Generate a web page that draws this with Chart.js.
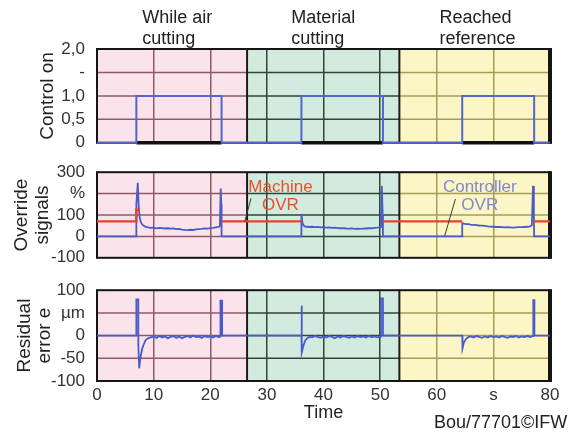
<!DOCTYPE html>
<html><head><meta charset="utf-8">
<script src="https://cdn.jsdelivr.net/npm/chart.js@4.4.1/dist/chart.umd.min.js"></script>
<style>
html,body{margin:0;padding:0;background:#fff;width:571px;height:434px;overflow:hidden;position:relative;}
canvas{position:absolute;left:0;}
#c1{top:0}#c2{top:150px}#c3{top:268px}
#credit{position:absolute;left:434px;top:412px;font:18px "Liberation Sans",Arial,sans-serif;color:#222;white-space:nowrap;}
</style></head><body>
<canvas id="c1" width="571" height="165"></canvas>
<canvas id="c2" width="571" height="130"></canvas>
<canvas id="c3" width="571" height="166"></canvas>
<div id="credit">Bou/77701©IFW</div>
<script>
// ---------------- data ----------------
const xTickValues = [0,10,20,30,40,50,60,70,80];
const xTickLabels = ['0','10','20','30','40','50','60','s','80'];

const regionEdges = [0, 26.5, 53.4, 80];
const regionNames = [['While air','cutting'],['Material','cutting'],['Reached','reference']];
const regionLabelX = [8.0, 34.3, 60.5];

const ctrlTickValues = [0,0.5,1,1.5,2];
const ctrlTickLabels = ['0','0,5','1,0','-','2,0'];
const ovrTickValues = [-100,0,100,200,300];
const ovrTickLabels = ['-100','0','100','%','300'];
const errTickValues = [-100,-50,0,50,100];
const errTickLabels = ['-100','-50','0','µm','100'];

// Control on signal (time s, value)
const controlOn = [[0,0],[6.95,0],[6.95,1],[22.0,1],[22.0,0],[36.1,0],[36.1,1],[50.5,1],[50.5,0],[64.5,0],[64.5,1],[77.2,1],[77.2,0],[80,0]];
const controlOff = [[6.95,0],[22.0,0],[22.0,null],[36.1,0],[50.5,0],[50.5,null],[64.5,0],[77.2,0]];

// Machine OVR (%)
const machineOVR = [[0,70],[6.95,70],[6.95,125],[7.6,122],[7.6,null],[22.0,70],[36.1,70],[36.1,null],[50.5,70],[64.5,70],[64.5,null],[77.2,70],[80,70]];

// Controller OVR (%)
const controllerOVR = [[0,0],[6.95,0],[6.95,150],[7.2,250],[7.35,150],[7.5,95],[7.7,70],[8.0,55],[8.5,46],[9,42],[9.5,40],[10,41],[10.5,38],[11,40],[11.5,39],[12,37],[12.5,38],[13,36],[13.5,37],[14,34],[14.5,35],[15,32],[15.5,30],[16,29],[16.5,31],[17,30],[17.5,33],[18,34],[18.5,35],[19,37],[19.5,36],[20,39],[20.5,40],[21,42],[21.5,44],[21.7,50],[21.85,224],[21.95,150],[22.0,0],
 [36.1,0],[36.1,105],[36.3,60],[36.6,48],[37,45],[37.5,44],[38,45],[38.5,43],[39,44],[39.5,42],[40,43],[40.5,41],[41,42],[41.5,40],[42,41],[42.5,39],[43,38],[43.5,39],[44,37],[44.5,36],[45,37],[45.5,35],[46,36],[46.5,35],[47,36],[47.5,37],[48,38],[48.5,38],[49,40],[49.5,41],[50,43],[50.15,60],[50.3,236],[50.45,100],[50.5,0],
 [64.5,0],[64.5,62],[64.8,60],[65.2,58],[65.6,57],[66,55],[66.5,54],[67,53],[67.5,51],[68,50],[68.5,49],[69,47],[69.5,46],[70,45],[70.5,44],[71,44],[71.5,43],[72,42],[72.5,43],[73,42],[73.5,41],[74,42],[74.5,43],[75,43],[75.5,44],[76,45],[76.5,47],[76.8,52],[77.0,236],[77.15,120],[77.2,0],[80,0]];

// Residual error e (µm)
const residualError = [[0,0],[6.95,0],[6.95,80],[7.3,80],[7.3,-20],[7.45,-72],[7.6,-55],[7.8,-40],[8.0,-28],[8.3,-18],[8.6,-10],[9.0,-6],[9.5,-4],[10,-2],[10.5,-5],[11,-1],[11.5,-4],[12,-2],[12.5,-6],[13,-3],[13.5,-1],[14,-5],[14.5,-2],[15,-6],[15.5,-3],[16,-1],[16.5,-4],[17,0],[17.5,-3],[18,-2],[18.5,-5],[19,-1],[19.5,-3],[20,-2],[20.5,-4],[21,-1],[21.5,-3],[21.75,-2],[21.8,77],[22.1,77],[22.1,0],
 [36.1,0],[36.12,66],[36.2,-37],[36.5,-20],[36.8,-10],[37.2,-5],[37.6,-3],[38,-4],[38.5,-1],[39,-3],[39.5,-5],[40,-2],[40.5,-4],[41,-1],[41.5,-3],[42,-6],[42.5,-2],[43,-4],[43.5,-1],[44,-3],[44.5,-5],[45,-2],[45.5,-4],[46,-1],[46.5,-3],[47,-2],[47.5,-4],[48,-1],[48.5,-3],[49,-2],[49.5,-4],[50.1,-2],[50.15,82],[50.5,82],[50.5,0],
 [64.5,0],[64.55,-28],[64.8,-15],[65.2,-7],[65.6,-3],[66,-2],[66.5,-4],[67,-1],[67.5,-3],[68,-5],[68.5,-2],[69,-4],[69.5,-1],[70,-3],[70.5,-2],[71,-4],[71.5,-1],[72,-3],[72.5,-5],[73,-2],[73.5,-3],[74,-1],[74.5,-4],[75,-2],[75.5,-3],[76,-1],[76.5,-3],[77.0,-1],[77.05,78],[77.25,78],[77.25,0],[80,0]];

// ---------------- styles ----------------
const FONT = '"Liberation Sans", Arial, Helvetica, sans-serif';
const regionFill = ['#fbe3eb','#d3ebdf','#fcf6c6'];
const regionGrid = ['#8d5a68','#2f4536','#a59c58'];
const blue = '#4a5bc6';
const red = '#e8432a';

const pts = arr => arr.map(p => ({x:p[0], y:p[1]}));
function regionIndex(v){ for(let i=0;i<3;i++){ if(v>=regionEdges[i] && v<regionEdges[i+1]) return i; } return 2; }

const regionPlugin = {
  id:'regions',
  beforeDraw(chart){
    const {ctx, chartArea:a, scales:{x}} = chart;
    ctx.save();
    for(let i=0;i<3;i++){
      const x0=x.getPixelForValue(regionEdges[i]), x1=x.getPixelForValue(regionEdges[i+1]);
      ctx.fillStyle=regionFill[i]; ctx.fillRect(x0,a.top,x1-x0,a.bottom-a.top);
    }
    ctx.restore();
  },
  beforeDatasetsDraw(chart){
    const {ctx, chartArea:a, scales:{x,y}} = chart;
    ctx.save();
    ctx.lineWidth=1.5;
    y.ticks.forEach(t=>{
      if(t.value===y.min||t.value===y.max) return;
      const py=y.getPixelForValue(t.value);
      for(let i=0;i<3;i++){
        ctx.strokeStyle=regionGrid[i];
        ctx.beginPath(); ctx.moveTo(x.getPixelForValue(regionEdges[i]),py); ctx.lineTo(x.getPixelForValue(regionEdges[i+1]),py); ctx.stroke();
      }
    });
    ctx.strokeStyle='#1c1c1c'; ctx.lineWidth=2;
    [regionEdges[1],regionEdges[2]].forEach(v=>{
      const px=x.getPixelForValue(v);
      ctx.beginPath(); ctx.moveTo(px,a.top); ctx.lineTo(px,a.bottom); ctx.stroke();
    });
    ctx.strokeStyle='#151515'; ctx.lineWidth=2;
    ctx.strokeRect(a.left,a.top,a.right-a.left,a.bottom-a.top);
    ctx.lineWidth=4;
    ctx.beginPath(); ctx.moveTo(a.right,a.top-1); ctx.lineTo(a.right,a.bottom+1); ctx.stroke();
    ctx.restore();
  }
};

const topLabelPlugin = {
  id:'toplabels',
  afterDraw(chart){
    const {ctx, scales:{x}} = chart;
    ctx.save();
    ctx.font='18px '+FONT; ctx.fillStyle='#222'; ctx.textAlign='left'; ctx.textBaseline='middle';
    regionNames.forEach((lines,i)=>{
      const px=x.getPixelForValue(regionLabelX[i]);
      ctx.fillText(lines[0],px,18);
      ctx.fillText(lines[1],px,39);
    });
    ctx.restore();
  }
};

const annotations = [
  {lines:['Machine','OVR'], color:'#e8502c', x:32.4, y1:228, y2:143, lead:[[27.2,178],[26.1,70]]},
  {lines:['Controller','OVR'], color:'#8088d2', x:67.6, y1:228, y2:143, lead:[[63.3,175],[61.4,2]]}
];
const annoPlugin = {
  id:'anno',
  afterDatasetsDraw(chart){
    const {ctx, scales:{x,y}} = chart;
    ctx.save();
    ctx.font='17px '+FONT; ctx.textAlign='center'; ctx.textBaseline='middle';
    annotations.forEach(a=>{
      ctx.fillStyle=a.color;
      ctx.fillText(a.lines[0], x.getPixelForValue(a.x), y.getPixelForValue(a.y1));
      ctx.fillText(a.lines[1], x.getPixelForValue(a.x), y.getPixelForValue(a.y2));
      ctx.strokeStyle='#3a3a3a'; ctx.lineWidth=1;
      ctx.beginPath();
      ctx.moveTo(x.getPixelForValue(a.lead[0][0]), y.getPixelForValue(a.lead[0][1]));
      ctx.lineTo(x.getPixelForValue(a.lead[1][0]), y.getPixelForValue(a.lead[1][1]));
      ctx.stroke();
    });
    ctx.restore();
  }
};

function xScale(showTicks){
  return {
    type:'linear', min:0, max:80,
    border:{display:false},
    grid:{drawTicks:false, lineWidth:1.5,
      color: c => { const v=c.tick.value; if(v===0||v===80) return 'rgba(0,0,0,0)'; return regionGrid[regionIndex(v)]; }},
    ticks:{display:showTicks, stepSize:10, padding:4, autoSkip:false, maxRotation:0, color:'#333', font:{size:17, family:FONT},
      callback: v => { const i=xTickValues.indexOf(v); return i<0?'':xTickLabels[i]; }},
    title:{display:showTicks, text:'Time', color:'#222', font:{size:18, family:FONT, lineHeight:1.15}, padding:{top:0,bottom:11}},
    afterFit: s => { s.height = showTicks ? 53 : 0; }
  };
}
function yScale(min,max,step,vals,labs,title,titlePad,lh){
  return {
    min, max,
    border:{display:false},
    grid:{display:false, drawTicks:false},
    ticks:{stepSize:step, padding:12, autoSkip:false, color:'#333', font:{size:17, family:FONT},
      callback: v => { const i=vals.indexOf(v); return i<0?'':labs[i]; }},
    title:{display:true, text:title, color:'#222', font:{size:19, family:FONT, lineHeight:lh}, padding:{top:titlePad,bottom:0}},
    afterFit: s => { s.width = 97; }
  };
}
function baseOptions(pad, showX, y){
  return {
    responsive:false, animation:false, events:[],
    layout:{padding:pad},
    plugins:{legend:{display:false}, tooltip:{enabled:false}},
    elements:{point:{radius:0}, line:{tension:0}},
    scales:{x:xScale(showX), y}
  };
}

new Chart(document.getElementById('c1'), {
  type:'line',
  data:{datasets:[
    {label:'Control on', data:pts(controlOn), borderColor:'#5366cc', borderWidth:2, clip:false, spanGaps:false},
    {label:'Control off', data:pts(controlOff), borderColor:'#111', borderWidth:3.5, clip:false, spanGaps:false}
  ]},
  options: baseOptions({top:49,bottom:20,left:0,right:21}, false,
    yScale(0,2,0.5,ctrlTickValues,ctrlTickLabels,'Control on',36,1.2)),
  plugins:[regionPlugin, topLabelPlugin]
});

new Chart(document.getElementById('c2'), {
  type:'line',
  data:{datasets:[
    {label:'Machine OVR', data:pts(machineOVR), borderColor:red, borderWidth:2.4, clip:false, spanGaps:false},
    {label:'Controller OVR', data:pts(controllerOVR), borderColor:blue, borderWidth:1.8, clip:false}
  ]},
  options: baseOptions({top:18,bottom:16,left:0,right:21}, false,
    yScale(-100,300,100,ovrTickValues,ovrTickLabels,['Override','signals'],11.5,1.1)),
  plugins:[regionPlugin, annoPlugin]
});

new Chart(document.getElementById('c3'), {
  type:'line',
  data:{datasets:[
    {label:'Residual error e', data:pts(residualError), borderColor:blue, borderWidth:1.8, clip:false}
  ]},
  options: baseOptions({top:17,bottom:0,left:0,right:21}, true,
    yScale(-100,100,50,errTickValues,errTickLabels,['Residual','error e'],14.5,1.05)),
  plugins:[regionPlugin]
});
</script>
</body></html>
